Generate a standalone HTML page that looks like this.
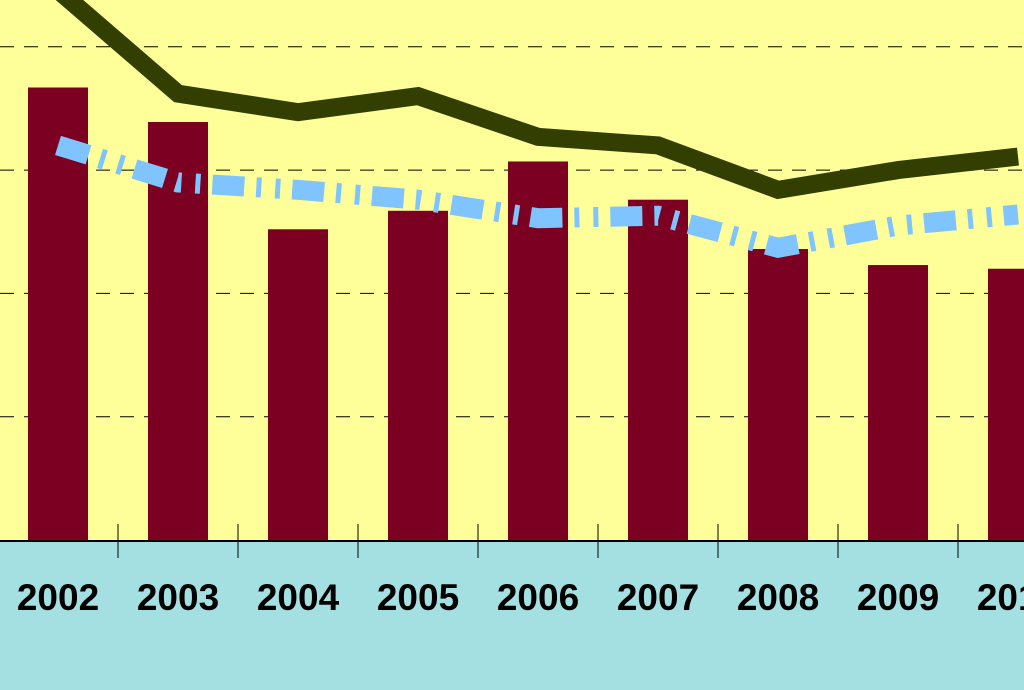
<!DOCTYPE html>
<html><head><meta charset="utf-8"><style>
html,body{margin:0;padding:0;width:1024px;height:690px;overflow:hidden;background:#a4dfe1}
svg{display:block}
text{font-family:"Liberation Sans",Arial,sans-serif;font-weight:bold;font-size:37px;fill:#000}
</style></head><body>
<svg id="chart" width="1024" height="690" viewBox="0 0 1024 690">
<rect x="0" y="0" width="1024" height="540" fill="#ffff99"/>
<g id="grid"></g><g id="bars"></g><g id="lines"></g><g id="axis"></g>
</svg>
<script>
const categories=["2002","2003","2004","2005","2006","2007","2008","2009","2010"];
const barValues=[367,339,252,267,307,276,236,223,220];
const greenValues=[446,362,347,360,327,320,284,300,311];
const blueValues=[320,290,284,276,261,263,237,255,264];
const gridTicks=[100,200,300,400];
const NS="http://www.w3.org/2000/svg";
const y0=540,k=1.233;
const xs=i=>58+120*i;
const ys=v=>y0-v*k;
function mk(t,a,p){const e=document.createElementNS(NS,t);for(const n in a)e.setAttribute(n,a[n]);p.appendChild(e);return e;}
const g=document.getElementById('grid');
gridTicks.forEach(v=>{const l=mk('line',{x1:0,x2:1024,y1:ys(v),y2:ys(v),stroke:'#000','stroke-width':1,'stroke-dasharray':'14 10'},g);

});
const b=document.getElementById('bars');
barValues.forEach((v,i)=>{const r=mk('rect',{x:xs(i)-30,y:ys(v),width:60,height:v*k,fill:'#7b0022'},b);

});
const L=document.getElementById('lines');
const pts=a=>a.map((v,i)=>xs(i)+','+ys(v)).join(' ');
const gl=mk('polyline',{points:pts(greenValues),fill:'none',stroke:'#333f00','stroke-width':18,'stroke-linejoin':'miter'},L);


const bl=mk('polyline',{points:pts(blueValues),fill:'none',stroke:'#80c4ff','stroke-width':20,'stroke-dasharray':'32 12 5 14 5 12'},L);


const A=document.getElementById('axis');
const ax=mk('line',{x1:0,x2:1024,y1:541,y2:541,stroke:'#000','stroke-width':2},A);


categories.forEach((c,i)=>{
 const tk=mk('line',{x1:xs(i)+60,x2:xs(i)+60,y1:524,y2:558,stroke:'#000','stroke-width':1},A);
 
 
 const t=mk('text',{x:xs(i),y:610,'text-anchor':'middle'},A);t.textContent=c;
 
 
});
</script>
</body></html>
